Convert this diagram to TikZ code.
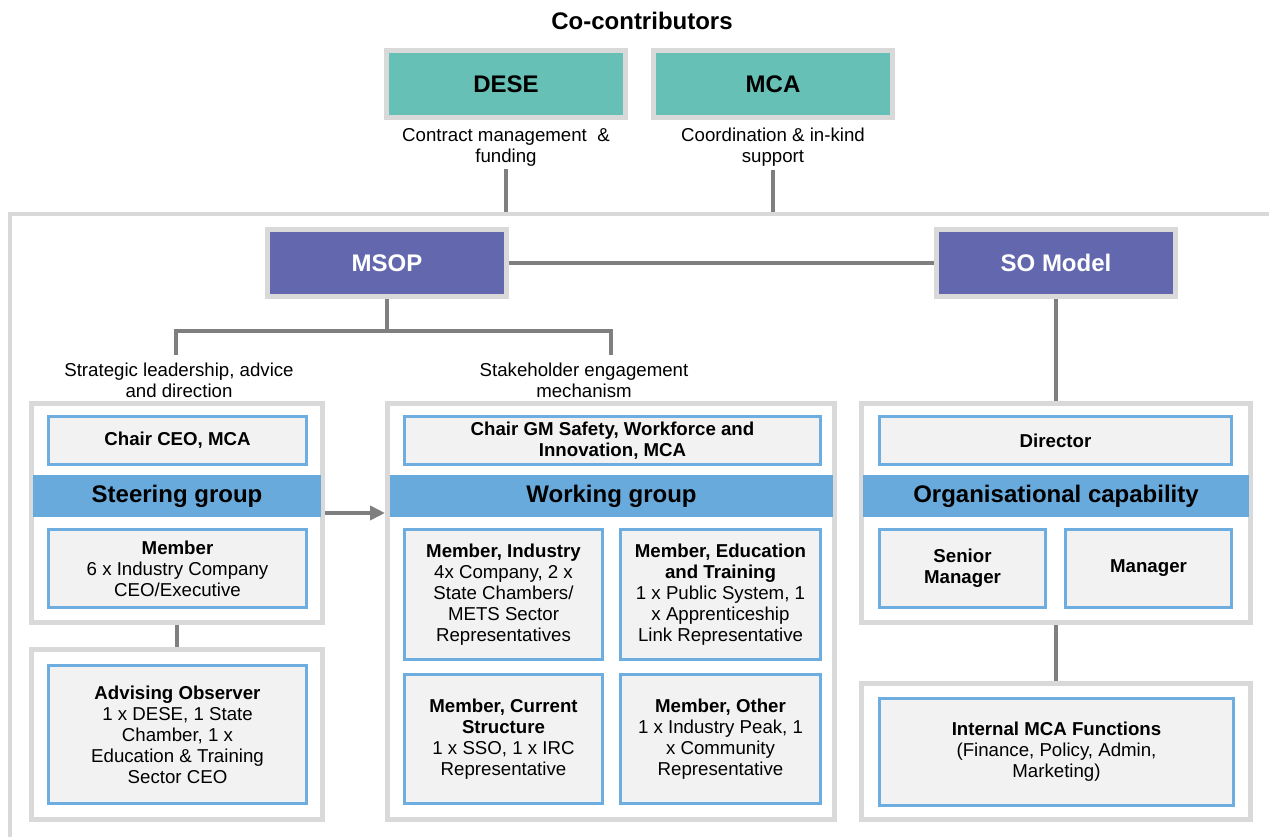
\documentclass[tikz,border=0pt]{standalone}
\usepackage{fontspec}
\setmainfont{Liberation Sans}
\usetikzlibrary{arrows.meta}
\definecolor{frameg}{HTML}{D9D9D9}
\definecolor{linkg}{HTML}{7F7F7F}
\definecolor{cotrib}{HTML}{66C0B5}
\definecolor{msopblue}{HTML}{6368AE}
\definecolor{bandblue}{HTML}{69AADD}
\definecolor{boxline}{HTML}{6DADE0}
\definecolor{boxfill}{HTML}{F2F2F2}
\begin{document}
\begin{tikzpicture}[x=1pt,y=-1pt,
  body/.style={font=\fontsize{18.67}{21}\selectfont, align=center},
  head/.style={font=\fontsize{24}{28}\selectfont\bfseries},
  topbox/.style={head, draw=frameg, line width=5pt, minimum width=239pt, minimum height=67pt},
  panel/.style={draw=frameg, line width=5pt, fill=white},
  band/.style={head, fill=bandblue, minimum height=42pt, inner sep=0pt},
  cell/.style={body, draw=boxline, line width=2.5pt, fill=boxfill, inner sep=0pt},
  conn/.style={draw=linkg, line width=4.5pt}]
\useasboundingbox (0,0) rectangle (1269,836);
% outer frame
\coordinate (frametop) at (10,214);
\draw[frameg, line width=4.5pt] (1275,214) -- (frametop) -- (10,845);
% co-contributors
\node[head] (cotitle) at (642,21) {Co-contributors};
\node[topbox, fill=cotrib] (dese) at (506,84) {DESE};
\node[topbox, fill=cotrib] (mca) at (773,84) {MCA};
\node[body] (desetxt) at (506,147) {Contract management \ \&\\funding};
\node[body] (mcatxt) at (773,147) {Coordination \& in-kind\\support};
\draw[conn, shorten >=2pt] (desetxt.south) -- (desetxt.south |- frametop);
\draw[conn, shorten >=2pt] (mcatxt.south) -- (mcatxt.south |- frametop);
% MSOP and SO model
\node[topbox, fill=msopblue, text=white] (msop) at (387,263) {MSOP};
\node[topbox, fill=msopblue, text=white] (somodel) at (1056,263) {SO Model};
\draw[conn] (msop) -- (somodel);
\coordinate (fork) at (387,331);
\coordinate (sgtop) at (176,355);
\coordinate (wgtop) at (611,355);
\draw[conn] (msop.south) -- (fork);
\draw[conn] (sgtop) |- (fork) -| (wgtop);
\node[body] (sgtxt) at (179,380) {Strategic leadership, advice\\and direction};
\node[body] (wgtxt) at (584,380) {Stakeholder engagement\\mechanism};
% steering group
\node[panel, minimum width=291pt, minimum height=219pt] (sgpanel) at (177,513) {};
\node[cell, minimum width=258pt, minimum height=48pt] (sgchair) at (177.5,440.5) {\textbf{Chair CEO, MCA}};
\node[band, minimum width=288pt] (sgband) at (177,496) {Steering group};
\node[cell, minimum width=258pt, minimum height=78pt] (sgmember) at (177.5,568.5)
  {\textbf{Member}\\6 x Industry Company\\CEO/Executive};
\node[panel, minimum width=291pt, minimum height=170pt] (obspanel) at (177,734.5) {};
\node[cell, minimum width=258pt, minimum height=138pt] (observer) at (177.5,734.5)
  {\textbf{Advising Observer}\\1 x DESE, 1 State\\Chamber, 1 x\\Education \& Training\\Sector CEO};
\draw[conn] (sgpanel) -- (obspanel);
% working group
\node[panel, minimum width=447pt, minimum height=416pt] (wgpanel) at (611,611.5) {};
\node[cell, minimum width=416pt, minimum height=48pt] (wgchair) at (612.5,440.5)
  {\textbf{Chair GM Safety, Workforce and}\\\textbf{Innovation, MCA}};
\node[band, minimum width=443pt] (wgband) at (611.5,496) {Working group};
\node[cell, minimum width=198pt, minimum height=130pt] (industry) at (503.5,594.5)
  {\textbf{Member, Industry}\\4x Company, 2 x\\State Chambers/\\METS Sector\\Representatives};
\node[cell, minimum width=200pt, minimum height=130pt] (education) at (720.5,594.5)
  {\textbf{Member, Education}\\\textbf{and Training}\\1 x Public System, 1\\x Apprenticeship\\Link Representative};
\node[cell, minimum width=198pt, minimum height=129pt] (current) at (503.5,739)
  {\textbf{Member, Current}\\\textbf{Structure}\\1 x SSO, 1 x IRC\\Representative};
\node[cell, minimum width=200pt, minimum height=129pt] (other) at (720.5,739)
  {\textbf{Member, Other}\\1 x Industry Peak, 1\\x Community\\Representative};
\draw[conn, -{Triangle[length=15pt, width=14pt]}] (sgpanel.east) -- (wgpanel.west |- sgpanel.east);
% organisational capability
\node[panel, minimum width=389pt, minimum height=219pt] (orgpanel) at (1056,513) {};
\node[cell, minimum width=352pt, minimum height=48pt] (director) at (1055.5,440.5) {\textbf{Director}};
\node[band, minimum width=386pt] (orgband) at (1056,496) {Organisational capability};
\node[cell, minimum width=166pt, minimum height=78pt] (senior) at (962.5,568.5) {\textbf{Senior}\\\textbf{Manager}};
\node[cell, minimum width=166pt, minimum height=78pt] (manager) at (1148.5,568.5) {\textbf{Manager}};
\node[panel, minimum width=389pt, minimum height=136pt] (funcpanel) at (1056,751.5) {};
\node[cell, minimum width=354pt, minimum height=107pt] (functions) at (1056.5,752)
  {\textbf{Internal MCA Functions}\\(Finance, Policy, Admin,\\Marketing)};
\draw[conn] (somodel) -- (orgpanel);
\draw[conn] (orgpanel) -- (funcpanel);
\end{tikzpicture}
\end{document}
